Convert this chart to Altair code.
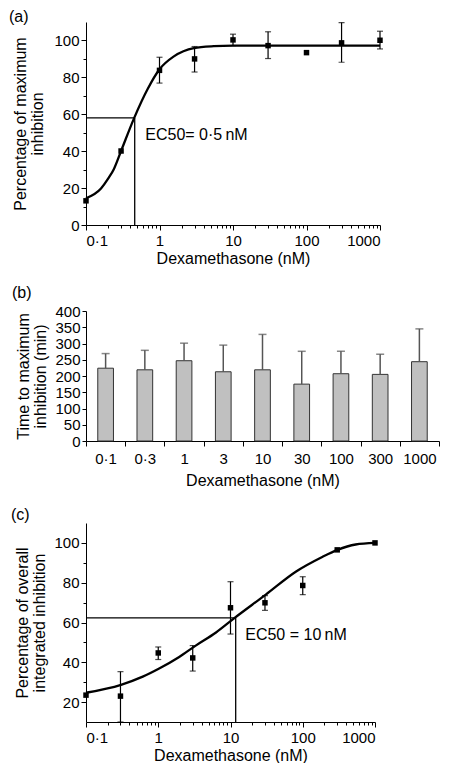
import math
import altair as alt
import pandas as pd

nan = float("nan")

# ---------------- Panel (a) ----------------
a_conc = [0.1, 0.3, 1, 3, 10, 30, 100, 300, 1000]
a_mean = [13.1, 40.1, 83.8, 90.0, 100.3, 97.2, 93.4, 98.7, 100.1]
a_lo = [nan, nan, 76.9, 82.9, 97.2, 90.2, nan, 88.2, 95.4]
a_hi = [nan, nan, 90.9, 96.7, 103.4, 104.7, nan, 109.7, 105.0]
a_curve_x = [0.1, 0.16, 0.2, 0.24, 0.3, 0.45, 0.69, 1, 1.57, 2.94, 5.5, 10, 30, 100, 300, 1000]
a_curve_y = [14.5, 19.8, 25.1, 30.4, 40.1, 57.8, 73.7, 84.4, 91.4, 95.9, 96.9, 97.2, 97.2, 97.2, 97.2, 97.2]
a_ec50_x = 0.46
a_ec50_y = 58
a_label = "EC50= 0·5\u2009nM"
a_label_pos = (0.64, 49)

# ---------------- Panel (b) ----------------
b_labels = ["0·1", "0·3", "1", "3", "10", "30", "100", "300", "1000"]
b_mean = [224, 219, 247, 213, 219, 175, 207, 205, 244]
b_err = [269, 279, 301, 295, 328, 276, 276, 267, 345]

# ---------------- Panel (c) ----------------
c_conc = [0.1, 0.3, 1, 3, 10, 30, 100, 300, 1000]
c_mean = [23.5, 23.0, 44.7, 42.2, 67.4, 69.9, 78.6, 96.5, 100.0]
c_lo = [nan, 10.0, 41.4, 35.6, 54.2, 66.1, 74.0, nan, nan]
c_hi = [nan, 35.3, 47.7, 48.4, 80.5, 73.5, 83.0, nan, nan]
c_curve_x = [0.1, 0.305, 0.61, 1.03, 1.95, 3.3, 6.3, 11.2, 30.8, 80, 186, 302, 540, 1000]
c_curve_y = [24.7, 28.7, 32.8, 36.9, 42.7, 48.4, 55.0, 62.1, 74.0, 85.5, 92.9, 96.5, 99.2, 100.0]
c_ec50_x = 11.8
c_ec50_y = 62.3
c_label = "EC50 = 10\u2009nM"
c_label_pos = (16.0, 53.7)

FONT = "Liberation Sans"
FS = 15
TFS = 16

log_ticks = sorted({round(k * 10 ** e, 6) for e in range(-1, 3) for k in range(1, 10)} | {1000})
major_test = "indexof([0.1, 1, 10, 100, 1000], datum.value) >= 0"
x_label_expr = ("datum.value == 0.1 ? '0·1' : (indexof([1, 10, 100, 1000], datum.value) >= 0 "
                "? '' + datum.value : '')")


def x_axis():
    return alt.Axis(
        values=log_ticks,
        labelExpr=x_label_expr,
        tickSize={"condition": {"test": major_test, "value": 5}, "value": 3},
        title="Dexamethasone (nM)",
        labelPadding=3,
        titlePadding=2,
        labelOverlap=False,
    )


def y_axis(title, vals, tp):
    return alt.Axis(
        values=vals,
        labelExpr="datum.value % 20 == 0 ? '' + datum.value : ''",
        tickSize={"condition": {"test": "datum.value % 20 == 0", "value": 5}, "value": 3},
        title=title,
        titlePadding=tp,
        labelPadding=2,
        labelOverlap=False,
    )


def dose_panel(conc, mean, lo, hi, cx, cy, ex, ey, label, lpos, ydom, yvals, ytitle, tp, w, h, tag, toff):
    pts = pd.DataFrame({"conc": conc, "mean": mean, "lo": lo, "hi": hi})
    err = pts.dropna()
    curve = pd.DataFrame({"conc": cx, "val": cy})
    ec = pd.DataFrame({"x0": [conc[0]], "x": [ex], "y0": [ydom[0]], "y": [ey]})
    lab = pd.DataFrame({"x": [lpos[0]], "y": [lpos[1]], "t": [label]})

    xs = alt.Scale(type="log", domain=[0.1, 1000], nice=False)
    ys = alt.Scale(domain=ydom, nice=False, zero=False)
    xa = x_axis()
    ya = y_axis(ytitle, yvals, tp)

    line = alt.Chart(curve).mark_line(color="black", strokeWidth=2.3, interpolate="monotone").encode(
        x=alt.X("conc:Q", scale=xs, axis=xa),
        y=alt.Y("val:Q", scale=ys, axis=ya),
    )
    hrule = alt.Chart(ec).mark_rule(color="black", strokeWidth=1.3).encode(
        x=alt.X("x0:Q", scale=xs, axis=xa), x2="x:Q", y=alt.Y("y:Q", scale=ys, axis=ya))
    vrule = alt.Chart(ec).mark_rule(color="black", strokeWidth=1.3).encode(
        x=alt.X("x:Q", scale=xs, axis=xa), y=alt.Y("y0:Q", scale=ys, axis=ya), y2="y:Q")
    ebar = alt.Chart(err).mark_rule(color="black", strokeWidth=1.2).encode(
        x=alt.X("conc:Q", scale=xs, axis=xa), y=alt.Y("lo:Q", scale=ys, axis=ya), y2="hi:Q")
    cap_hi = alt.Chart(err).mark_tick(color="black", orient="horizontal", size=6, thickness=1.2).encode(
        x=alt.X("conc:Q", scale=xs, axis=xa), y=alt.Y("hi:Q", scale=ys, axis=ya))
    cap_lo = alt.Chart(err).mark_tick(color="black", orient="horizontal", size=6, thickness=1.2).encode(
        x=alt.X("conc:Q", scale=xs, axis=xa), y=alt.Y("lo:Q", scale=ys, axis=ya))
    sq = alt.Chart(pts).mark_square(color="black", size=30, opacity=1).encode(
        x=alt.X("conc:Q", scale=xs, axis=xa), y=alt.Y("mean:Q", scale=ys, axis=ya))
    txt = alt.Chart(lab).mark_text(align="left", baseline="middle", fontSize=TFS, font=FONT, color="black").encode(
        x=alt.X("x:Q", scale=xs, axis=xa), y=alt.Y("y:Q", scale=ys, axis=ya), text="t:N")

    return alt.layer(line, hrule, vrule, ebar, cap_hi, cap_lo, sq, txt).properties(
        width=w, height=h,
        title=alt.TitleParams(text=tag, anchor="start", fontSize=TFS, fontWeight="normal",
                              font=FONT, offset=toff, dx=-4),
    )


panel_a = dose_panel(a_conc, a_mean, a_lo, a_hi, a_curve_x, a_curve_y, a_ec50_x, a_ec50_y,
                     a_label, a_label_pos, [0, 110], list(range(0, 101, 10)),
                     ["Percentage of maximum", "inhibition"], 8, 294, 203, "(a)", -3)

panel_c = dose_panel(c_conc, c_mean, c_lo, c_hi, c_curve_x, c_curve_y, c_ec50_x, c_ec50_y,
                     c_label, c_label_pos, [10, 110], list(range(20, 101, 10)),
                     ["Percentage of overall", "integrated inhibition"], 6, 289, 199, "(c)", 0)

bdf = pd.DataFrame({"dose": b_labels, "mean": b_mean, "err": b_err})
bxs = alt.Scale(paddingInner=0, paddingOuter=0)
bxa = alt.Axis(tickBand="extent", labelAngle=0, tickSize=5, labelPadding=5,
               title="Dexamethasone (nM)", titlePadding=6)
bys = alt.Scale(domain=[0, 400], nice=False)
bya = alt.Axis(values=list(range(0, 401, 50)), tickSize=4, labelPadding=2,
               title=["Time to maximum", "inhibition (min)"], titlePadding=6,
               labelOverlap=False)
bars = alt.Chart(bdf).mark_bar(width=alt.RelativeBandSize(0.4), fill="#c0c0c0",
                               stroke="#333333", strokeWidth=1).encode(
    x=alt.X("dose:N", sort=b_labels, scale=bxs, axis=bxa),
    y=alt.Y("mean:Q", scale=bys, axis=bya))
berr = alt.Chart(bdf).mark_rule(color="#555555", strokeWidth=1.5).encode(
    x=alt.X("dose:N", sort=b_labels, scale=bxs, axis=bxa),
    y=alt.Y("mean:Q", scale=bys, axis=bya), y2="err:Q")
bcap = alt.Chart(bdf).mark_tick(color="#555555", size=8, thickness=1.5).encode(
    x=alt.X("dose:N", sort=b_labels, scale=bxs, axis=bxa),
    y=alt.Y("err:Q", scale=bys, axis=bya))
panel_b = alt.layer(bars, berr, bcap).properties(
    width=353, height=130,
    title=alt.TitleParams(text="(b)", anchor="start", fontSize=TFS, fontWeight="normal",
                          font=FONT, offset=3, dx=-4),
)

chart = alt.vconcat(panel_a, panel_b, panel_c, spacing=19).properties(
    padding={"left": 0, "top": 0, "right": 0, "bottom": 0}
).configure_view(stroke=None).configure_axis(
    labelFont=FONT, titleFont=FONT, labelFontSize=FS, titleFontSize=TFS, labelColor="black",
    titleColor="black", domainColor="black", tickColor="black", grid=False,
    titleFontWeight="normal", titleLineHeight=17, domainWidth=1, tickWidth=1,
).configure_title(color="black")

chart.save("out.html", embed_options={"renderer": "svg", "actions": False})
